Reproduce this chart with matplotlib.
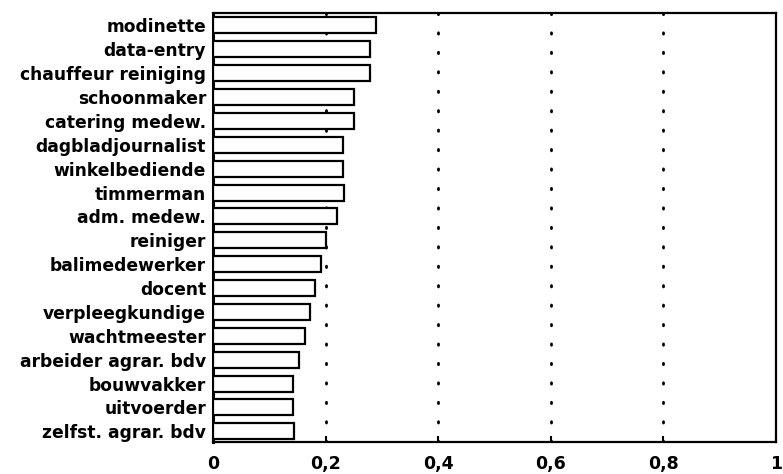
import matplotlib.pyplot as plt
import matplotlib
matplotlib.rcParams['font.family'] = ['DejaVu Sans']

beroepen = ['modinette', 'data-entry', 'chauffeur reiniging', 'schoonmaker',
            'catering medew.', 'dagbladjournalist', 'winkelbediende', 'timmerman',
            'adm. medew.', 'reiniger', 'balimedewerker', 'docent',
            'verpleegkundige', 'wachtmeester', 'arbeider agrar. bdv',
            'bouwvakker', 'uitvoerder', 'zelfst. agrar. bdv']
waarden = [0.289, 0.279, 0.279, 0.250, 0.250, 0.231, 0.231, 0.232, 0.220,
           0.201, 0.191, 0.181, 0.172, 0.163, 0.153, 0.143, 0.143, 0.144]
xticks = [0, 0.2, 0.4, 0.6, 0.8, 1]
xticklabels = ['0', '0,2', '0,4', '0,6', '0,8', '1']

fig = plt.figure(figsize=(7.83, 4.74), dpi=100)
ax = fig.add_axes([0.272, 0.0675, 0.719, 0.905])

y = list(range(len(beroepen)))
ax.barh(y, waarden, height=0.67, color='white', edgecolor='black',
        linewidth=1.6, zorder=3)

# dotted grid lines behind the bars
for gx in xticks[1:-1]:
    ax.axvline(gx, color='black', linewidth=2.0, linestyle=(0, (0.5, 6.5)),
               dash_capstyle='round', zorder=1)

ax.set_xlim(0, 1)
ax.set_ylim(17.45, -0.52)
ax.set_yticks(y)
ax.set_yticklabels(beroepen, fontsize=12.3, fontweight='bold')
ax.set_xticks(xticks)
ax.set_xticklabels(xticklabels, fontsize=12.5, fontweight='bold')
ax.tick_params(axis='y', length=0, pad=5)
ax.tick_params(axis='x', direction='in', length=4, width=1.5, pad=9)
for s in ax.spines.values():
    s.set_linewidth(1.6)
ax.spines['left'].set_linewidth(2.2)

plt.savefig('out.png', dpi=100)
